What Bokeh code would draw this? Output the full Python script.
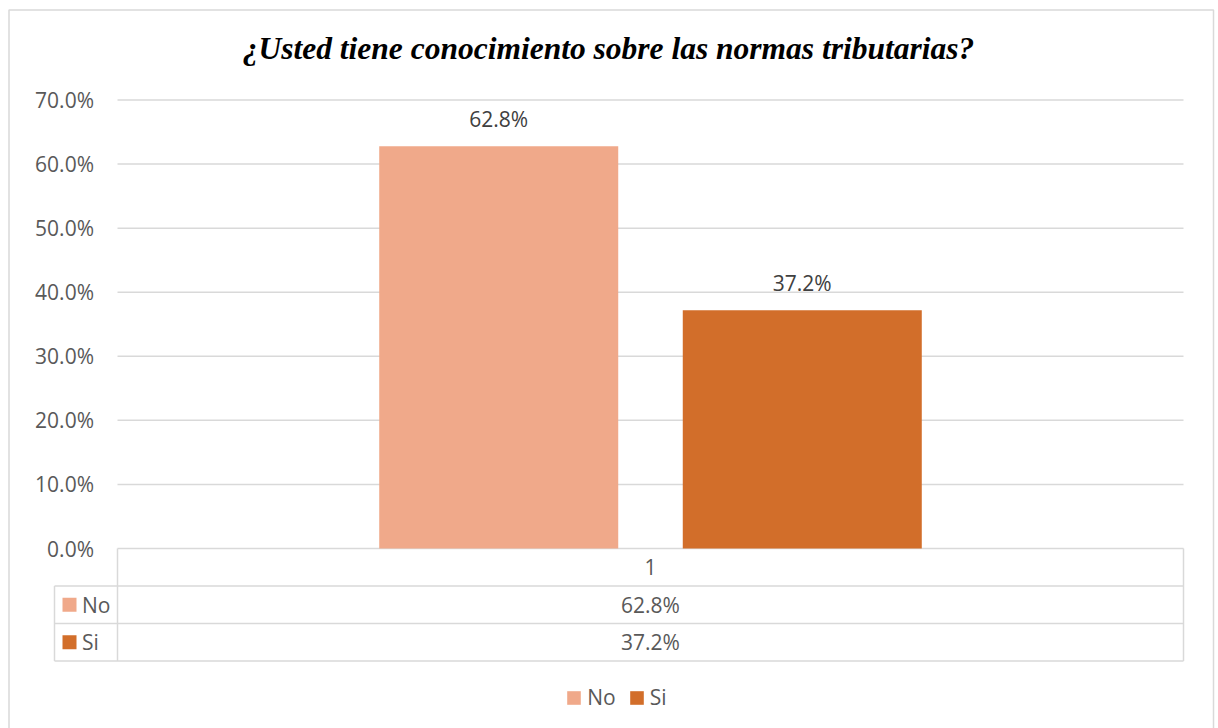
from bokeh.plotting import figure
from bokeh.models import Range1d, ColumnDataSource, Legend, LegendItem
from bokeh.embed import file_html
from bokeh.resources import INLINE
from bokeh.core.properties import value

# ---------------- data ----------------
title_text = "¿Usted tiene conocimiento sobre las normas tributarias?"
categories = ["1"]
series = ["No", "Si"]
values = [0.628, 0.372]
colors = ["#F0A98A", "#D26E2A"]
y_ticks = [0.0, 0.1, 0.2, 0.3, 0.4, 0.5, 0.6, 0.7]

# ---------------- layout constants (page pixels) ----------------
W, H = 1218, 728
PLOT_L, PLOT_R = 117.0, 1183.0            # category span in px
Y0_PX, Y70_PX = 548.0, 99.5               # px of 0 % and 70 %
PXX = PLOT_R - PLOT_L
PXU = (Y0_PX - Y70_PX) / 0.70
ROW_PX = 37.5
GAP, OVERLAP = 2.19, -0.27                # Excel gap width / overlap
FONT = "Open Sans"
FS = "21px"
GREY_TXT = "#595959"
LINE = "#d9d9d9"


def X(px):
    return (px - PLOT_L) / PXX


def Y(py):
    return (Y0_PX - py) / PXU


ROW = ROW_PX / PXU

n = len(series)
bar_w = 1.0 / (n + GAP - OVERLAP * (n - 1))
xs = [0.5 + (i - (n - 1) / 2) * bar_w * (1 - OVERLAP) for i in range(n)]

source = ColumnDataSource(dict(
    x=xs,
    val=values,
    color=colors,
    name=series,
    label=[f"{v*100:.1f}%" for v in values],
))

p = figure(width=W, height=H, output_backend="svg", toolbar_location=None,
           x_axis_type=None, y_axis_type=None, title=None, min_border=0,
           x_range=Range1d(X(0), X(W)), y_range=Range1d(Y(H), Y(0)))
p.background_fill_color = "white"
p.border_fill_color = "white"
p.outline_line_color = None
p.grid.visible = False

# outer chart border
p.quad(left=[X(8.5)], right=[X(1213)], top=[Y(9.5)], bottom=[Y(H + 5)],
       fill_alpha=0, line_color=LINE, line_width=1.5)

# title
p.text(x=[X(608)], y=[Y(48)], text=[title_text], text_align="center",
       text_baseline="middle", text_font=value("Liberation Serif"),
       text_font_style="bold italic", text_font_size="31.5px", text_color="black")

# value axis: gridlines + tick labels from the tick list
p.segment(x0=[0.0] * len(y_ticks), x1=[1.0] * len(y_ticks), y0=y_ticks, y1=y_ticks,
          line_color=LINE, line_width=1.5)
p.text(x=[X(93.5)] * len(y_ticks), y=y_ticks, text=[f"{t*100:.1f}%" for t in y_ticks],
       text_align="right", text_baseline="middle", text_font=value(FONT),
       text_font_size=FS, text_color=GREY_TXT)

# bars
bars = p.vbar(x="x", top="val", bottom=0, width=bar_w, fill_color="color",
              line_color=None, source=source)

# data labels
p.text(x="x", y="val", text="label", source=source, text_align="center",
       text_baseline="alphabetic", y_offset=-27, text_font=value(FONT),
       text_font_size=FS, text_color="#404040")

# data table
n_rows = 1 + n
hy = [-k * ROW for k in range(1, n_rows + 1)]
p.segment(x0=[X(54)] * len(hy), x1=[1.0] * len(hy), y0=hy, y1=hy,
          line_color=LINE, line_width=1.5)
p.segment(x0=[0.0, 1.0, X(54)], x1=[0.0, 1.0, X(54)],
          y0=[0.0, 0.0, -ROW], y1=[-n_rows * ROW] * 3,
          line_color=LINE, line_width=1.5)

tbl_text = categories + [f"{v*100:.1f}%" for v in values]
tbl_y = [-(k + 0.5) * ROW for k in range(n_rows)]
p.text(x=[0.5] * n_rows, y=tbl_y, text=tbl_text, text_align="center",
       text_baseline="middle", text_font=value(FONT), text_font_size=FS,
       text_color=GREY_TXT)

# legend keys inside the table
key_y = tbl_y[1:]
p.scatter(x=[X(69)] * n, y=key_y, marker="square", size=14, fill_color=colors,
          line_color=None)
p.text(x=[X(81.5)] * n, y=key_y, text=series, text_align="left",
       text_baseline="middle", text_font=value(FONT), text_font_size=FS,
       text_color=GREY_TXT)

# legend below
legend = Legend(items=[LegendItem(label=series[i], renderers=[bars], index=i) for i in range(n)],
                location=(565.25, 17), orientation="horizontal",
                glyph_width=17, glyph_height=17, label_standoff=5, spacing=12,
                padding=0, margin=0, border_line_color=None, background_fill_alpha=0,
                label_text_font=FONT, label_text_font_size=FS,
                label_text_color=GREY_TXT)
p.add_layout(legend, "center")

open("out.html", "w").write(file_html(p, INLINE))
